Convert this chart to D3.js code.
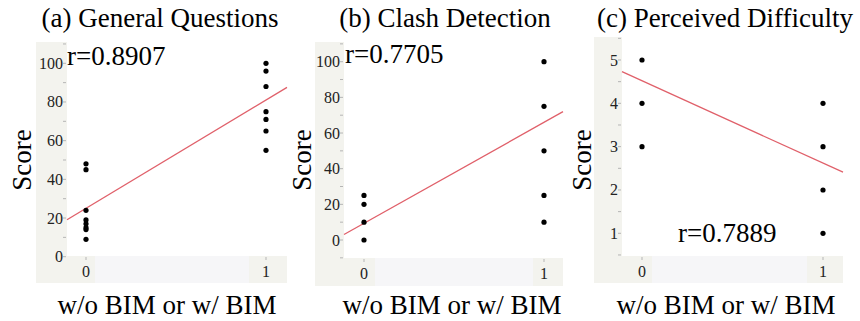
<!DOCTYPE html>
<html><head><meta charset="utf-8">
<script src="https://cdn.jsdelivr.net/npm/d3@7"></script>
</head><body style="margin:0;padding:0;background:#fff">
<svg id="chart" width="860" height="321" style="display:block" font-family="Liberation Serif, Times New Roman, Tinos, FreeSerif"></svg>
<script>
// ---- data ----
const titles = ["(a) General Questions", "(b) Clash Detection", "(c) Perceived Difficulty"];
const rLabels = ["r=0.8907", "r=0.7705", "r=0.7889"];
const xTicks = [0, 1];
const xLabel = "w/o BIM or w/ BIM";
const yLabel = "Score";
const yTicksA = [0, 20, 40, 60, 80, 100];
const yTicksB = [0, 20, 40, 60, 80, 100];
const yTicksC = [1, 2, 3, 4, 5];
const generalWithout = [48, 45, 24, 19, 17, 15, 14, 9];
const generalWith = [100, 96, 88, 75, 71, 65, 55];
const clashWithout = [25, 20, 10, 0];
const clashWith = [100, 75, 50, 25, 10];
const difficultyWithout = [5, 4, 3];
const difficultyWith = [4, 3, 2, 1];
const fitGeneral = [25, 81];     // fitted value at x=0, x=1
const fitClash = [9.4, 66];
const fitDifficulty = [4.52, 2.62];

// ---- layout ----
const layouts = [
  {stripL: 36, L: 67, R: 287, T: 42, B: 256, bottom: 283, x0: 86, x1: 266, yv: [0, 100], yp: [256.7, 63.3], minor: 10, ymin: -1, light: [95, 249],
   title: {x: 160, y: 27}, r: {x: 67, y: 65}, score: {x: 31, y: 160}, xl: {x: 167, y: 314}, xtY: 277},
  {stripL: 315, L: 344, R: 563, T: 42, B: 258, bottom: 286, x0: 364, x1: 544, yv: [0, 100], yp: [240, 61.7], minor: 10, ymin: -10, light: [375, 533],
   title: {x: 445, y: 27}, r: {x: 345, y: 63}, score: {x: 311, y: 160}, xl: {x: 452, y: 314}, xtY: 279},
  {stripL: 594, L: 622, R: 843, T: 37, B: 256, bottom: 283, x0: 642, x1: 823, yv: [1, 5], yp: [233.3, 60], minor: 0.5, ymin: 0.5, light: [652, 807],
   title: {x: 725, y: 27}, r: {x: 678, y: 242}, score: {x: 591, y: 160}, xl: {x: 726, y: 314}, xtY: 277}
];
const panelData = [
  {without: generalWithout, with: generalWith, fit: fitGeneral, yTicks: yTicksA},
  {without: clashWithout, with: clashWith, fit: fitClash, yTicks: yTicksB},
  {without: difficultyWithout, with: difficultyWith, fit: fitDifficulty, yTicks: yTicksC}
];

const svg = d3.select("#chart");
const FONT = '"Liberation Serif", "Times New Roman", Tinos, FreeSerif';
const gray = "#f3f3ee", light = "#f6f6f8";

layouts.forEach((lay, i) => {
  const d = panelData[i];
  const g = svg.append("g");
  const x = d3.scaleLinear().domain(xTicks).range([lay.x0, lay.x1]);
  const y = d3.scaleLinear().domain(lay.yv).range(lay.yp);

  // axis backgrounds
  g.append("rect").attr("x", lay.stripL).attr("y", lay.T).attr("width", lay.L - lay.stripL).attr("height", lay.bottom - lay.T).attr("fill", gray);
  g.append("rect").attr("x", lay.stripL).attr("y", lay.B).attr("width", lay.R - lay.stripL).attr("height", lay.bottom - lay.B).attr("fill", gray);
  g.append("rect").attr("x", lay.light[0]).attr("y", lay.B).attr("width", lay.light[1] - lay.light[0]).attr("height", lay.bottom - lay.B).attr("fill", light);

  // y ticks (major + minor)
  const yMax = y.invert(lay.T);
  const minorTicks = d3.range(Math.ceil(lay.ymin / lay.minor) * lay.minor, yMax, lay.minor);
  g.selectAll(".ymt").data(minorTicks).join("line")
    .attr("x1", lay.L - 4).attr("x2", lay.L - 1)
    .attr("y1", v => y(v)).attr("y2", v => y(v))
    .attr("stroke", "#b5b5b5").attr("stroke-width", 1);
  g.selectAll(".ytl").data(d.yTicks).join("text")
    .attr("x", lay.L - 4).attr("y", v => y(v) + 5.5)
    .attr("text-anchor", "end")
    .style("font-family", FONT).style("font-size", "16px").style("fill", "#222")
    .text(v => v);

  // x ticks
  g.selectAll(".xt").data(xTicks).join("line")
    .attr("x1", v => x(v)).attr("x2", v => x(v)).attr("y1", lay.B + 1).attr("y2", lay.B + 4)
    .attr("stroke", "#b5b5b5");
  g.selectAll(".xtl").data(xTicks).join("text")
    .attr("x", v => x(v)).attr("y", lay.xtY)
    .attr("text-anchor", "middle")
    .style("font-family", FONT).style("font-size", "16px").style("fill", "#222")
    .text(v => v);

  // regression line
  const fitScale = d3.scaleLinear().domain(xTicks).range(d.fit);
  const xl = x.invert(lay.L), xr = x.invert(lay.R);
  g.append("line")
    .attr("x1", lay.L).attr("y1", y(fitScale(xl)))
    .attr("x2", lay.R).attr("y2", y(fitScale(xr)))
    .attr("stroke", "#e0606a").attr("stroke-width", 1.3);

  // points
  const pts = d.without.map(v => [0, v]).concat(d.with.map(v => [1, v]));
  g.selectAll(".pt").data(pts).join("circle")
    .attr("cx", p => x(p[0])).attr("cy", p => y(p[1])).attr("r", 2.6).attr("fill", "#000");

  // texts
  const txt = (sel) => sel.style("font-family", FONT).style("font-size", "27px").style("fill", "#000");
  txt(g.append("text").attr("x", lay.title.x).attr("y", lay.title.y).attr("text-anchor", "middle")).text(titles[i]);
  txt(g.append("text").attr("x", lay.r.x).attr("y", lay.r.y)).text(rLabels[i]);
  txt(g.append("text").attr("transform", `translate(${lay.score.x},${lay.score.y}) rotate(-90)`)
    .attr("text-anchor", "middle")).text(yLabel);
  txt(g.append("text").attr("x", lay.xl.x).attr("y", lay.xl.y).attr("text-anchor", "middle")).text(xLabel);
});
</script>
</body></html>
